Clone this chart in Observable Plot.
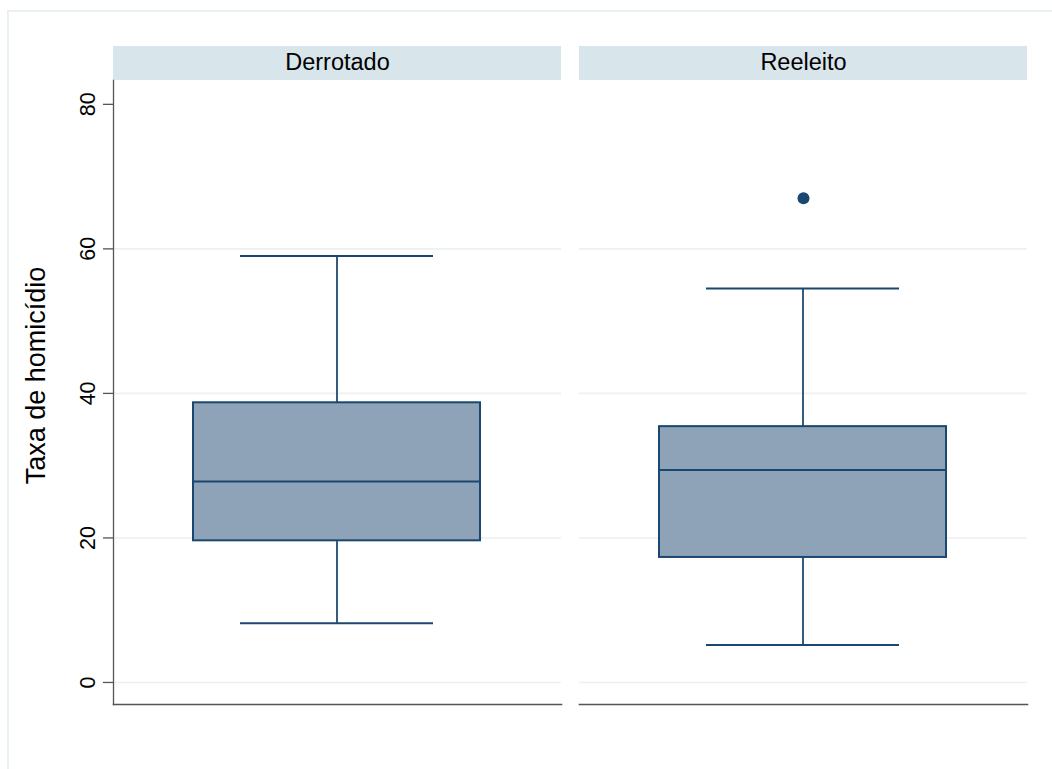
<!DOCTYPE html>
<html>
<head>
<meta charset="utf-8">
<script src="https://cdn.jsdelivr.net/npm/d3@7"></script>
<script src="https://cdn.jsdelivr.net/npm/@observablehq/plot@0.6"></script>
<style>
  html, body { margin: 0; padding: 0; background: #fff; }
  #chart { position: relative; width: 1052px; height: 769px; overflow: hidden; }
  svg { display: block; }
</style>
</head>
<body>
<div id="chart"></div>
<script>
// ---- data ----
const groups = ["Derrotado", "Reeleito"];
const lowerWhisker = [8.2, 5.2];
const q1 = [19.6, 17.3];
const median = [27.8, 29.4];
const q3 = [38.7, 35.4];
const upperWhisker = [59.0, 54.5];
const outlierGroup = ["Reeleito"];
const outlierValue = [67.0];
const yTicks = [0, 20, 40, 60, 80];
const gridValues = [0, 20, 40, 60];
const yLabel = "Taxa de homicídio";

// ---- tables for the library ----
const boxes = groups.map((g, i) => ({
  group: g, lo: lowerWhisker[i], q1: q1[i], med: median[i], q3: q3[i], hi: upperWhisker[i]
}));
const outliers = outlierGroup.map((g, i) => ({group: g, value: outlierValue[i]}));

const navy = "#1a476f";
const boxFill = "#8ea3b8";
const gridColor = "#eaf1f3";
const axisColor = "#555555";
const stripFill = "#d8e5eb";

const W = 1052, H = 769;
const mL = 112, mR = 24, mT = 80, mB = 65;
// whisker stem: a thin band centred in each facet (facet band ≈ 449px)
const stemInset = 223.2;

const chart = Plot.plot({
  width: W,
  height: H,
  marginLeft: mL,
  marginRight: mR,
  marginTop: mT,
  marginBottom: mB,
  style: {fontFamily: "'Liberation Sans', Arial, sans-serif", background: "#fff", color: "#000"},
  fx: {domain: groups, padding: 0.0385, label: null},
  y: {domain: [-3.05, 83.3]},
  marks: [
    Plot.ruleY(gridValues, {y: d => d, stroke: gridColor, strokeWidth: 1.6}),
    Plot.frame({anchor: "bottom", stroke: axisColor, strokeWidth: 1.6}),
    Plot.frame({anchor: "left", facetAnchor: "left", stroke: axisColor, strokeWidth: 1.3}),
    Plot.axisY({ticks: yTicks, tickSize: 10, tickFormat: () => "", label: null, stroke: axisColor, strokeWidth: 1.3}),
    Plot.text(yTicks, {
      y: d => d, text: d => String(d), frameAnchor: "left", facetAnchor: "left",
      rotate: -90, dx: -19, textAnchor: "middle", lineAnchor: "bottom",
      fontSize: 21.5, fill: "#000"
    }),
    Plot.text([yLabel], {
      text: d => d, frameAnchor: "left", facetAnchor: "left",
      rotate: -90, dx: -68.5, dy: -17, textAnchor: "middle", lineAnchor: "bottom",
      fontSize: 27, fill: "#000"
    }),
    Plot.axisFx({anchor: "top", tickSize: 0, tickPadding: 10.5, fontSize: 23.5, label: null, fill: "#000"}),
    // whisker stems
    Plot.rect(boxes, {fx: "group", y1: "lo", y2: "q1", insetLeft: stemInset, insetRight: stemInset, fill: navy, stroke: navy, strokeWidth: 0.4}),
    Plot.rect(boxes, {fx: "group", y1: "q3", y2: "hi", insetLeft: stemInset, insetRight: stemInset, fill: navy, stroke: navy, strokeWidth: 0.4}),
    // whisker caps
    Plot.ruleY(boxes, {fx: "group", y: "lo", insetLeft: 127, insetRight: 128, stroke: navy, strokeWidth: 2}),
    Plot.ruleY(boxes, {fx: "group", y: "hi", insetLeft: 127, insetRight: 128, stroke: navy, strokeWidth: 2}),
    // box
    Plot.rect(boxes, {fx: "group", y1: "q1", y2: "q3", insetLeft: 80, insetRight: 81, fill: boxFill, stroke: navy, strokeWidth: 2}),
    Plot.ruleY(boxes, {fx: "group", y: "med", insetLeft: 80, insetRight: 81, stroke: navy, strokeWidth: 2}),
    // outliers
    Plot.dot(outliers, {fx: "group", y: "value", r: 6, fill: navy, stroke: "none"})
  ]
});

document.getElementById("chart").appendChild(chart);

// strip backgrounds behind the facet labels, placed with the fx scale
const svg = d3.select(chart.tagName.toLowerCase() === "svg" ? chart : chart.querySelector("svg"));
const fx = chart.scale("fx");
const bw = fx.bandwidth;
const stripG = svg.insert("g", ":first-child");
// outer light border (as in the reference export)
stripG.append("rect")
  .attr("x", 8).attr("y", 11).attr("width", W + 40).attr("height", H + 40)
  .attr("fill", "none").attr("stroke", "#e9f0f3").attr("stroke-width", 2);
groups.forEach(g => {
  stripG.append("rect")
    .attr("x", fx.apply(g))
    .attr("y", mT - 34)
    .attr("width", bw)
    .attr("height", 34)
    .attr("fill", stripFill);
});
</script>
</body>
</html>
